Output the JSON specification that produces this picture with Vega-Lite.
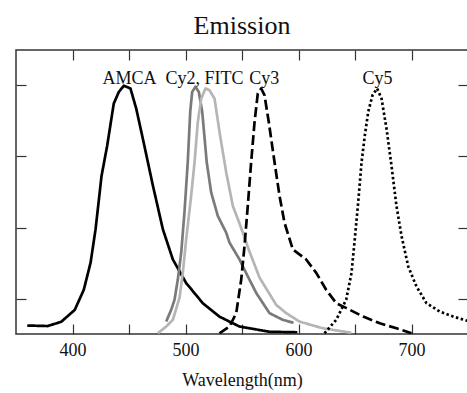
{
  "$schema": "https://vega.github.io/schema/vega-lite/v6.json",
  "width": 452,
  "height": 284,
  "autosize": {"type": "none"},
  "padding": {"left": 16, "top": 50, "right": 0, "bottom": 59},
  "background": "white",
  "title": {"text": "Emission", "font": "Liberation Serif", "fontSize": 26, "fontWeight": "normal", "color": "#111", "anchor": "middle", "frame": "group", "baseline": "alphabetic", "offset": -11},
  "config": {
    "view": {"stroke": "#333", "strokeWidth": 1.5},
    "axis": {
      "domain": false, "grid": false, "tickColor": "#333", "tickWidth": 1.2, "tickSize": -10,
      "labelFont": "Liberation Serif", "labelFontSize": 18, "labelColor": "#111",
      "titleFont": "Liberation Serif", "titleFontSize": 18, "titleFontWeight": "normal", "titleColor": "#111"
    }
  },
  "datasets": {
    "curves": [
      {"series": "AMCA", "nm": 360, "v": 0.034}, {"series": "AMCA", "nm": 378, "v": 0.032}, {"series": "AMCA", "nm": 390, "v": 0.049},
      {"series": "AMCA", "nm": 402, "v": 0.097}, {"series": "AMCA", "nm": 410, "v": 0.178}, {"series": "AMCA", "nm": 416, "v": 0.287},
      {"series": "AMCA", "nm": 420.4, "v": 0.421}, {"series": "AMCA", "nm": 425.7, "v": 0.636}, {"series": "AMCA", "nm": 430.7, "v": 0.758},
      {"series": "AMCA", "nm": 436.5, "v": 0.927}, {"series": "AMCA", "nm": 441, "v": 0.974}, {"series": "AMCA", "nm": 445.4, "v": 0.999},
      {"series": "AMCA", "nm": 451.3, "v": 0.988}, {"series": "AMCA", "nm": 456.4, "v": 0.907}, {"series": "AMCA", "nm": 462.3, "v": 0.785},
      {"series": "AMCA", "nm": 471.2, "v": 0.596}, {"series": "AMCA", "nm": 480, "v": 0.421}, {"series": "AMCA", "nm": 488.8, "v": 0.3},
      {"series": "AMCA", "nm": 500.6, "v": 0.205}, {"series": "AMCA", "nm": 515.3, "v": 0.124}, {"series": "AMCA", "nm": 530, "v": 0.07},
      {"series": "AMCA", "nm": 547.8, "v": 0.03}, {"series": "AMCA", "nm": 574.3, "v": 0.009}, {"series": "AMCA", "nm": 599, "v": 0.007},

      {"series": "Cy2", "nm": 482.9, "v": 0.05}, {"series": "Cy2", "nm": 487.3, "v": 0.097}, {"series": "Cy2", "nm": 490.3, "v": 0.138},
      {"series": "Cy2", "nm": 493.2, "v": 0.219}, {"series": "Cy2", "nm": 496.2, "v": 0.327}, {"series": "Cy2", "nm": 499.1, "v": 0.49},
      {"series": "Cy2", "nm": 502, "v": 0.692}, {"series": "Cy2", "nm": 504.2, "v": 0.895}, {"series": "Cy2", "nm": 505.9, "v": 0.974},
      {"series": "Cy2", "nm": 508.8, "v": 0.995}, {"series": "Cy2", "nm": 511.8, "v": 0.974}, {"series": "Cy2", "nm": 514.8, "v": 0.894},
      {"series": "Cy2", "nm": 518.8, "v": 0.691}, {"series": "Cy2", "nm": 522.7, "v": 0.57}, {"series": "Cy2", "nm": 528.6, "v": 0.475},
      {"series": "Cy2", "nm": 536, "v": 0.408}, {"series": "Cy2", "nm": 538.9, "v": 0.368}, {"series": "Cy2", "nm": 547.8, "v": 0.3},
      {"series": "Cy2", "nm": 550.7, "v": 0.272}, {"series": "Cy2", "nm": 562.6, "v": 0.165}, {"series": "Cy2", "nm": 574.3, "v": 0.084},
      {"series": "Cy2", "nm": 586.1, "v": 0.057}, {"series": "Cy2", "nm": 595.6, "v": 0.045},

      {"series": "FITC", "nm": 475.5, "v": 0.003}, {"series": "FITC", "nm": 482.9, "v": 0.03}, {"series": "FITC", "nm": 488.8, "v": 0.057},
      {"series": "FITC", "nm": 494.7, "v": 0.146}, {"series": "FITC", "nm": 497.6, "v": 0.246}, {"series": "FITC", "nm": 500.6, "v": 0.381},
      {"series": "FITC", "nm": 505, "v": 0.556}, {"series": "FITC", "nm": 508, "v": 0.691}, {"series": "FITC", "nm": 510.9, "v": 0.853},
      {"series": "FITC", "nm": 513.9, "v": 0.947}, {"series": "FITC", "nm": 517.7, "v": 0.988}, {"series": "FITC", "nm": 521.2, "v": 0.981},
      {"series": "FITC", "nm": 525.7, "v": 0.947}, {"series": "FITC", "nm": 530.1, "v": 0.813}, {"series": "FITC", "nm": 536, "v": 0.651},
      {"series": "FITC", "nm": 541.9, "v": 0.515}, {"series": "FITC", "nm": 547.8, "v": 0.445}, {"series": "FITC", "nm": 556.6, "v": 0.332},
      {"series": "FITC", "nm": 565.5, "v": 0.227}, {"series": "FITC", "nm": 580.3, "v": 0.117}, {"series": "FITC", "nm": 589.1, "v": 0.084},
      {"series": "FITC", "nm": 600.9, "v": 0.05}, {"series": "FITC", "nm": 621.5, "v": 0.023}, {"series": "FITC", "nm": 646.7, "v": 0.005},

      {"series": "Cy3", "nm": 530.1, "v": 0.003}, {"series": "Cy3", "nm": 538.9, "v": 0.03}, {"series": "Cy3", "nm": 544.9, "v": 0.084},
      {"series": "Cy3", "nm": 549.3, "v": 0.219}, {"series": "Cy3", "nm": 552.2, "v": 0.353}, {"series": "Cy3", "nm": 555.1, "v": 0.515},
      {"series": "Cy3", "nm": 558.1, "v": 0.691}, {"series": "Cy3", "nm": 561.1, "v": 0.853}, {"series": "Cy3", "nm": 564, "v": 0.968},
      {"series": "Cy3", "nm": 567, "v": 0.988}, {"series": "Cy3", "nm": 569.9, "v": 0.961}, {"series": "Cy3", "nm": 573.7, "v": 0.853},
      {"series": "Cy3", "nm": 578.8, "v": 0.691}, {"series": "Cy3", "nm": 583.2, "v": 0.556}, {"series": "Cy3", "nm": 587.6, "v": 0.448},
      {"series": "Cy3", "nm": 595, "v": 0.34}, {"series": "Cy3", "nm": 606.8, "v": 0.3}, {"series": "Cy3", "nm": 615.7, "v": 0.246},
      {"series": "Cy3", "nm": 624.5, "v": 0.178}, {"series": "Cy3", "nm": 633.4, "v": 0.124}, {"series": "Cy3", "nm": 642.5, "v": 0.104},
      {"series": "Cy3", "nm": 657.3, "v": 0.07}, {"series": "Cy3", "nm": 672, "v": 0.043}, {"series": "Cy3", "nm": 686.7, "v": 0.023},
      {"series": "Cy3", "nm": 700, "v": 0.003},

      {"series": "Cy5", "nm": 623, "v": 0.003}, {"series": "Cy5", "nm": 633.4, "v": 0.057}, {"series": "Cy5", "nm": 642.2, "v": 0.138},
      {"series": "Cy5", "nm": 646.9, "v": 0.246}, {"series": "Cy5", "nm": 649.8, "v": 0.381}, {"series": "Cy5", "nm": 652.8, "v": 0.529},
      {"series": "Cy5", "nm": 655.8, "v": 0.691}, {"series": "Cy5", "nm": 658.7, "v": 0.799}, {"series": "Cy5", "nm": 661.7, "v": 0.894},
      {"series": "Cy5", "nm": 665.5, "v": 0.961}, {"series": "Cy5", "nm": 669.6, "v": 0.988}, {"series": "Cy5", "nm": 673.5, "v": 0.947},
      {"series": "Cy5", "nm": 677.9, "v": 0.826}, {"series": "Cy5", "nm": 682.3, "v": 0.677}, {"series": "Cy5", "nm": 686.7, "v": 0.515},
      {"series": "Cy5", "nm": 691.2, "v": 0.394}, {"series": "Cy5", "nm": 697.1, "v": 0.272}, {"series": "Cy5", "nm": 704.4, "v": 0.191},
      {"series": "Cy5", "nm": 713.3, "v": 0.124}, {"series": "Cy5", "nm": 725.1, "v": 0.09}, {"series": "Cy5", "nm": 736.9, "v": 0.07},
      {"series": "Cy5", "nm": 748.7, "v": 0.054}, {"series": "Cy5", "nm": 750, "v": 0.053}
    ],
    "labels": [
      {"label": "AMCA", "nm": 450.4, "v": 1.006},
      {"label": "Cy2, FITC", "nm": 516.8, "v": 1.006},
      {"label": "Cy3", "nm": 569.6, "v": 1.006},
      {"label": "Cy5", "nm": 669.9, "v": 1.006}
    ]
  },
  "layer": [
    {
      "data": {"name": "curves"},
      "mark": {"type": "line", "strokeWidth": 2.7, "clip": true, "strokeCap": "butt", "strokeJoin": "round"},
      "encoding": {
        "x": {"field": "nm", "type": "quantitative", "scale": {"domain": [350, 750], "nice": false, "zero": false},
              "axis": {"orient": "bottom", "values": [400, 450, 500, 550, 600, 650, 700], "labelExpr": "datum.value % 100 === 0 ? datum.label : ''", "title": "Wavelength(nm)", "labelPadding": 17, "titlePadding": 12}},
        "y": {"field": "v", "type": "quantitative", "scale": {"domain": [0, 1.142857], "nice": false, "zero": false},
              "axis": {"orient": "left", "values": [0.142857, 0.428571, 0.714286, 1.0], "labels": false, "title": null}},
        "color": {"field": "series", "type": "nominal", "scale": {"domain": ["AMCA", "Cy2", "FITC", "Cy3", "Cy5"], "range": ["#000000", "#7a7a7a", "#b5b5b5", "#000000", "#000000"]}, "legend": null},
        "strokeDash": {"field": "series", "type": "nominal", "scale": {"domain": ["AMCA", "Cy2", "FITC", "Cy3", "Cy5"], "range": [[1, 0], [1, 0], [1, 0], [10, 4], [2.5, 2.5]]}, "legend": null}
      }
    },
    {
      "data": {"name": "labels"},
      "mark": {"type": "text", "font": "Liberation Serif", "fontSize": 18, "align": "center", "baseline": "alphabetic", "color": "#111"},
      "encoding": {
        "x": {"field": "nm", "type": "quantitative", "scale": {"domain": [350, 750], "nice": false, "zero": false},
              "axis": {"orient": "top", "values": [400, 450, 500, 550, 600, 650, 700], "labels": false, "title": null}},
        "y": {"field": "v", "type": "quantitative", "scale": {"domain": [0, 1.142857], "nice": false, "zero": false},
              "axis": {"orient": "right", "values": [0.142857, 0.428571, 0.714286, 1.0], "labels": false, "title": null}},
        "text": {"field": "label", "type": "nominal"}
      }
    }
  ],
  "resolve": {"axis": {"x": "independent", "y": "independent"}}
}
